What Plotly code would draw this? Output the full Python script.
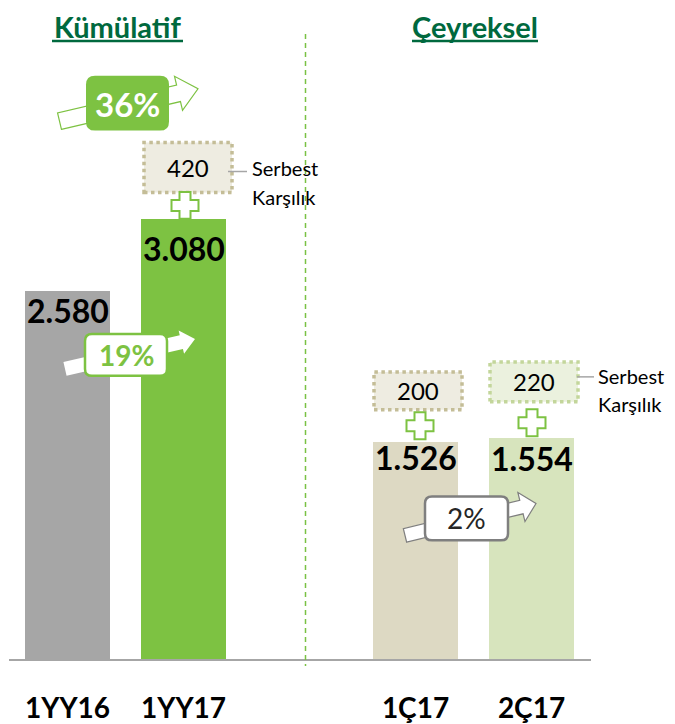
import plotly.graph_objects as go

# data
categories = ["1YY16", "1YY17", "1Ç17", "2Ç17"]
positions = [0, 1, 3, 4]
values = [2580, 3080, 1526, 1554]
provisions = [None, 420, 200, 220]          # serbest karşılık
growth_labels = ["36%", "19%", "2%"]
section_titles = ["Kümülatif", "Çeyreksel"]
provision_lines = ["Serbest", "Karşılık"]

COLORS = {
    "bars": ["#A6A6A6", "#7DC242", "#DDD9C3", "#D7E4BD"],
    "title": "#00693E",
    "green": "#7DC242",
    "divider": "#7AC143",
    "axis": "#A6A6A6",
    "grey": "#7F7F7F",
    "box_fill": ["#EEECE1", "#EEECE1", "#EBF1DE"],
    "box_line": ["#C4BD97", "#C4BD97", "#C3D69B"],
}
FONT = "Lato, 'Open Sans', sans-serif"
LABEL_NUDGE = [2, -8, 6, 1]   # px, value labels sit unevenly in the original

# page geometry, in screen pixels (the page body adds an 8px margin)
PAGE_W, PAGE_H = 675, 724
PAD = 8
W, H = PAGE_W - PAD, PAGE_H - PAD
BASE = 662            # screen row of the baseline
SLOT = 116            # pixels between bar centres
X0 = 67.5             # screen centre of the first bar
PX_PER_UNIT = 442 / 3080


def dx(px):
    return (px - X0) / SLOT


def dy(py):
    return (BASE - py) / PX_PER_UNIT


def path(points):
    return "M " + " L ".join(f"{dx(x):.5f},{dy(y):.2f}" for x, y in points) + " Z"


def rounded_rect(x0, y0, x1, y1, r):
    p = lambda x, y: f"{dx(x):.5f},{dy(y):.2f}"
    return (f"M {p(x0 + r, y0)} L {p(x1 - r, y0)} Q {p(x1, y0)} {p(x1, y0 + r)} "
            f"L {p(x1, y1 - r)} Q {p(x1, y1)} {p(x1 - r, y1)} "
            f"L {p(x0 + r, y1)} Q {p(x0, y1)} {p(x0, y1 - r)} "
            f"L {p(x0, y0 + r)} Q {p(x0, y0)} {p(x0 + r, y0)} Z")


def arrow(tail, tip, body, head, head_len):
    (tx, ty), (px_, py_) = tail, tip
    L = ((px_ - tx) ** 2 + (py_ - ty) ** 2) ** 0.5
    ux, uy = (px_ - tx) / L, (py_ - ty) / L
    nx, ny = -uy, ux
    bx, by = px_ - ux * head_len, py_ - uy * head_len
    pts = [
        (tx + nx * body, ty + ny * body), (bx + nx * body, by + ny * body),
        (bx + nx * head, by + ny * head), (px_, py_),
        (bx - nx * head, by - ny * head), (bx - nx * body, by - ny * body),
        (tx - nx * body, ty - ny * body),
    ]
    return path(pts)


def plus(cx, cy, e=13.5, a=5.5):
    pts = [(cx - a, cy - e), (cx + a, cy - e), (cx + a, cy - a), (cx + e, cy - a),
           (cx + e, cy + a), (cx + a, cy + a), (cx + a, cy + e), (cx - a, cy + e),
           (cx - a, cy + a), (cx - e, cy + a), (cx - e, cy - a), (cx - a, cy - a)]
    return path(pts)


def paper_x(px):
    return (px - PAD) / W


def paper_y(py):
    return (BASE - py) / (BASE - PAD)


fig = go.Figure()
fig.add_trace(go.Bar(
    x=positions, y=values, width=0.735,
    marker=dict(color=COLORS["bars"], line=dict(width=0)),
    hoverinfo="skip",
))

shapes, annotations = [], []

# value labels just inside the top of each bar
for pos, val, nudge in zip(positions, values, LABEL_NUDGE):
    annotations.append(dict(x=pos, y=val, xref="x", yref="y", text=f"{val:,}".replace(",", "."),
                            showarrow=False, yanchor="top", yshift=nudge,
                            font=dict(family=FONT, size=32, color="black", weight="bold")))

# baseline + section divider
shapes.append(dict(type="line", xref="paper", yref="paper", x0=paper_x(9), x1=paper_x(591), y0=0, y1=0,
                   line=dict(color=COLORS["axis"], width=2)))
shapes.append(dict(type="line", xref="paper", yref="paper", x0=paper_x(305.5), x1=paper_x(305.5),
                   y0=paper_y(34), y1=paper_y(668),
                   line=dict(color=COLORS["divider"], width=1.5, dash="5px,4px")))

# section titles, underlined
for title, cx, x0, x1 in [(section_titles[0], 117.5, 52, 183), (section_titles[1], 475, 412, 538)]:
    annotations.append(dict(x=dx(cx), y=dy(PAD), xref="x", yref="y", text=title, showarrow=False,
                            yanchor="top", borderpad=0,
                            font=dict(family=FONT, size=29, color=COLORS["title"], weight="bold")))
    shapes.append(dict(type="line", xref="x", yref="y", x0=dx(x0), x1=dx(x1), y0=dy(41), y1=dy(41),
                       line=dict(color=COLORS["title"], width=2.5)))

# provision boxes with plus signs
boxes = [(144, 143, 232, 193), (374, 373, 462, 411), (490, 363, 578, 403)]
pluses = [(185, 206), (420, 427), (532, 424)]
for i, (box, pl) in enumerate(zip(boxes, pluses)):
    x0, y0, x1, y1 = box
    shapes.append(dict(type="rect", xref="x", yref="y", x0=dx(x0), x1=dx(x1), y0=dy(y1), y1=dy(y0),
                       fillcolor=COLORS["box_fill"][i],
                       line=dict(color=COLORS["box_line"][i], width=3.5, dash="dot")))
    annotations.append(dict(x=dx((x0 + x1) / 2), y=dy((y0 + y1) / 2), xref="x", yref="y",
                            text=str(provisions[i + 1]), showarrow=False,
                            font=dict(family=FONT, size=24, color="black")))
    shapes.append(dict(type="path", xref="x", yref="y", path=plus(*pl), fillcolor="white",
                       line=dict(color=COLORS["green"], width=2)))

# connectors to "Serbest Karşılık"
for (lx0, lx1, ly, tx, ty0, ty1) in [(228, 247, 172, 251, 168, 198), (577, 594, 378, 597, 377, 405)]:
    shapes.append(dict(type="line", xref="x", yref="y", x0=dx(lx0), x1=dx(lx1), y0=dy(ly), y1=dy(ly),
                       line=dict(color="#A6A6A6", width=1.5)))
    for line_text, ty in zip(provision_lines, (ty0, ty1)):
        annotations.append(dict(x=dx(tx), y=dy(ty), xref="x", yref="y", text=line_text,
                                showarrow=False, xanchor="left", borderpad=0,
                                font=dict(family=FONT, size=20, color="black")))

# growth arrows
shapes.append(dict(type="path", xref="x", yref="y", path=arrow((59.5, 121.5), (198, 89), 8.5, 17.5, 20),
                   fillcolor="white", line=dict(color=COLORS["green"], width=1.2)))
shapes.append(dict(type="path", xref="x", yref="y", path=rounded_rect(86, 76, 169, 131, 9),
                   fillcolor=COLORS["green"], line=dict(width=0)))
annotations.append(dict(x=dx(127.5), y=dy(104), xref="x", yref="y", text=growth_labels[0], showarrow=False,
                        font=dict(family=FONT, size=33, color="white", weight="bold")))

shapes.append(dict(type="path", xref="x", yref="y", path=arrow((65, 370), (195, 340), 7, 12, 14),
                   fillcolor="white", line=dict(width=0)))
shapes.append(dict(type="path", xref="x", yref="y", path=rounded_rect(85, 335, 167, 377, 7),
                   fillcolor="white", line=dict(color=COLORS["green"], width=2.5)))
annotations.append(dict(x=dx(126), y=dy(356), xref="x", yref="y", text=growth_labels[1], showarrow=False,
                        font=dict(family=FONT, size=28, color=COLORS["green"], weight="bold")))

shapes.append(dict(type="path", xref="x", yref="y", path=arrow((405, 537), (536, 505), 7, 15, 15),
                   fillcolor="white", line=dict(color=COLORS["grey"], width=1.2)))
shapes.append(dict(type="path", xref="x", yref="y", path=rounded_rect(425, 498, 508, 542, 7),
                   fillcolor="white", line=dict(color=COLORS["grey"], width=2.5)))
annotations.append(dict(x=dx(466.5), y=dy(520), xref="x", yref="y", text=growth_labels[2], showarrow=False,
                        font=dict(family=FONT, size=28, color="#262626")))

fig.update_layout(
    width=W, height=H,
    margin=dict(l=0, r=0, t=0, b=PAGE_H - BASE),
    plot_bgcolor="white", paper_bgcolor="white",
    showlegend=False,
    shapes=shapes, annotations=annotations,
    bargap=0,
)
fig.update_xaxes(
    range=[dx(PAD), dx(PAGE_W)], showgrid=False, zeroline=False, showline=False,
    tickvals=positions, ticktext=categories, ticks="", ticklabelstandoff=29,
    tickfont=dict(family=FONT, size=28, color="black", weight="bold"),
)
fig.update_yaxes(range=[0, dy(PAD)], visible=False)

fig.write_html("out.html")
